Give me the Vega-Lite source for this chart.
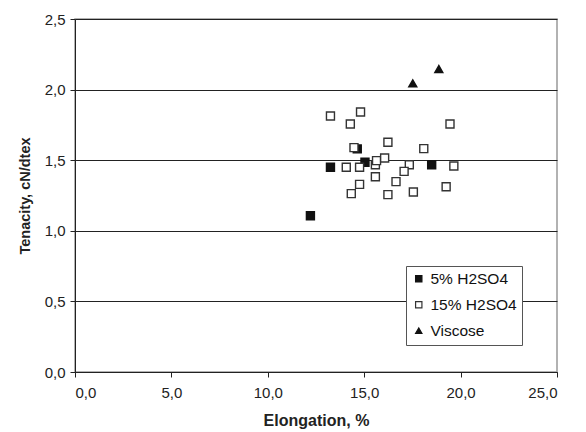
{
  "$schema": "https://vega.github.io/schema/vega-lite/v6.json",
  "autosize": "none",
  "width": 482,
  "height": 353,
  "padding": {"left": 75, "top": 19, "right": 29, "bottom": 60},
  "background": "white",
  "config": {
    "font": "Liberation Sans",
    "view": {"stroke": "#999999", "strokeWidth": 1.5}
  },
  "data": {
    "values": [
      {"series": "5% H2SO4", "elongation": 12.21, "tenacity": 1.107},
      {"series": "5% H2SO4", "elongation": 13.25, "tenacity": 1.45},
      {"series": "5% H2SO4", "elongation": 14.64, "tenacity": 1.58},
      {"series": "5% H2SO4", "elongation": 15.04, "tenacity": 1.485},
      {"series": "5% H2SO4", "elongation": 18.5, "tenacity": 1.468},
      {"series": "15% H2SO4", "elongation": 13.25, "tenacity": 1.813},
      {"series": "15% H2SO4", "elongation": 14.81, "tenacity": 1.841},
      {"series": "15% H2SO4", "elongation": 14.28, "tenacity": 1.756},
      {"series": "15% H2SO4", "elongation": 19.45, "tenacity": 1.756},
      {"series": "15% H2SO4", "elongation": 16.23, "tenacity": 1.627},
      {"series": "15% H2SO4", "elongation": 14.47, "tenacity": 1.589},
      {"series": "15% H2SO4", "elongation": 18.09, "tenacity": 1.582},
      {"series": "15% H2SO4", "elongation": 14.07, "tenacity": 1.45},
      {"series": "15% H2SO4", "elongation": 14.76, "tenacity": 1.45},
      {"series": "15% H2SO4", "elongation": 15.58, "tenacity": 1.468},
      {"series": "15% H2SO4", "elongation": 15.64, "tenacity": 1.497},
      {"series": "15% H2SO4", "elongation": 16.06, "tenacity": 1.516},
      {"series": "15% H2SO4", "elongation": 17.34, "tenacity": 1.468},
      {"series": "15% H2SO4", "elongation": 17.07, "tenacity": 1.421},
      {"series": "15% H2SO4", "elongation": 19.65, "tenacity": 1.459},
      {"series": "15% H2SO4", "elongation": 15.58, "tenacity": 1.383},
      {"series": "15% H2SO4", "elongation": 14.76, "tenacity": 1.329},
      {"series": "15% H2SO4", "elongation": 16.65, "tenacity": 1.348},
      {"series": "15% H2SO4", "elongation": 19.25, "tenacity": 1.312},
      {"series": "15% H2SO4", "elongation": 14.33, "tenacity": 1.263},
      {"series": "15% H2SO4", "elongation": 16.23, "tenacity": 1.256},
      {"series": "15% H2SO4", "elongation": 17.55, "tenacity": 1.275},
      {"series": "Viscose", "elongation": 17.52, "tenacity": 2.045},
      {"series": "Viscose", "elongation": 18.87, "tenacity": 2.146}
    ]
  },
  "mark": {"type": "point", "size": 64, "strokeWidth": 1.4, "opacity": 1},
  "encoding": {
    "x": {
      "field": "elongation", "type": "quantitative",
      "scale": {"domain": [0, 25], "nice": false, "zero": true},
      "axis": {
        "title": "Elongation, %", "titleFontSize": 16, "titleFontWeight": "bold", "titleColor": "#222", "titlePadding": 12,
        "values": [0, 5, 10, 15, 20, 25],
        "labelExpr": "replace(format(datum.value, '.1f'), '.', ',')",
        "labelFontSize": 15, "labelColor": "#222", "labelPadding": 8,
        "grid": false, "domainColor": "#222", "tickColor": "#222", "tickSize": 5
      }
    },
    "y": {
      "field": "tenacity", "type": "quantitative",
      "scale": {"domain": [0, 2.5], "nice": false},
      "axis": {
        "title": "Tenacity, cN/dtex", "titleFontSize": 14.5, "titleFontWeight": "bold", "titleColor": "#222", "titlePadding": 12,
        "values": [0, 0.5, 1, 1.5, 2, 2.5],
        "labelExpr": "replace(format(datum.value, '.1f'), '.', ',')",
        "labelFontSize": 15, "labelColor": "#222", "labelPadding": 5,
        "grid": true, "gridColor": "#222", "gridWidth": 1,
        "domainColor": "#222", "tickColor": "#222", "tickSize": 5
      }
    },
    "shape": {
      "field": "series", "type": "nominal",
      "scale": {"domain": ["5% H2SO4", "15% H2SO4", "Viscose"], "range": ["square", "square", "triangle-up"]},
      "legend": {
        "title": null, "orient": "none", "legendX": 331, "legendY": 247,
        "strokeColor": "#555", "fillColor": "white", "padding": 5,
        "labelFontSize": 15.5, "labelColor": "#111", "labelOffset": 4,
        "symbolSize": 40, "rowPadding": 9, "symbolStrokeWidth": 1.2
      }
    },
    "fill": {
      "field": "series", "type": "nominal",
      "scale": {"domain": ["5% H2SO4", "15% H2SO4", "Viscose"], "range": ["#111111", "white", "#111111"]},
      "legend": null
    },
    "stroke": {
      "field": "series", "type": "nominal",
      "scale": {"domain": ["5% H2SO4", "15% H2SO4", "Viscose"], "range": ["#111111", "#333333", "#111111"]},
      "legend": null
    }
  }
}
